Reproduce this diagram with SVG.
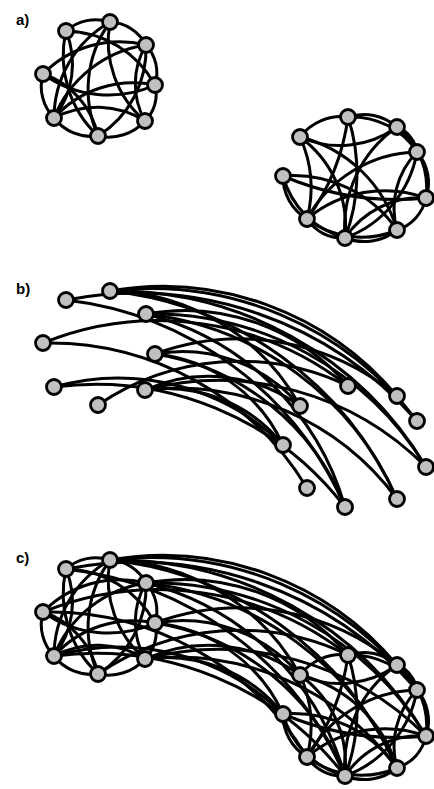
<svg xmlns="http://www.w3.org/2000/svg" width="434" height="789" viewBox="0 0 434 789">
<style>
.e{fill:none;stroke:#000;stroke-width:3}
.n{fill:#c0c0c0;stroke:#000;stroke-width:2.8}
.lbl{font-family:"Liberation Sans",Arial,sans-serif;font-weight:bold;font-size:15px;fill:#000}
</style>
<rect width="434" height="789" fill="#fff"/>
<text class="lbl" x="16" y="25">a)</text>
<text class="lbl" x="16" y="294">b)</text>
<text class="lbl" x="16" y="563">c)</text>
<g id="connectors">
<g id="a-edges">
<path class="e" d="M66 31A44.9 44.9 0 0 1 110 22"/>
<path class="e" d="M110 22A42.7 42.7 0 0 1 146 45"/>
<path class="e" d="M146 45A41 41 0 0 1 155 85"/>
<path class="e" d="M155 85A37.4 37.4 0 0 1 145 121"/>
<path class="e" d="M145 121A49.3 49.3 0 0 1 98 136"/>
<path class="e" d="M98 136A47.5 47.5 0 0 1 54 118"/>
<path class="e" d="M54 118A45.4 45.4 0 0 1 43 74"/>
<path class="e" d="M66 31A87.8 87.8 0 0 1 54 118"/>
<path class="e" d="M98 136A109.8 109.8 0 0 1 66 31"/>
<path class="e" d="M54 118A111.1 111.1 0 0 1 110 22"/>
<path class="e" d="M98 136A114.6 114.6 0 0 1 110 22"/>
<path class="e" d="M145 121A105 105 0 0 1 110 22"/>
<path class="e" d="M66 31A104.1 104.1 0 0 1 155 85"/>
<path class="e" d="M54 118A117.4 117.4 0 0 1 146 45"/>
<path class="e" d="M146 45A102.9 102.9 0 0 1 98 136"/>
<path class="e" d="M43 74A107 107 0 0 1 146 45"/>
<path class="e" d="M155 85A112.5 112.5 0 0 1 43 74"/>
<path class="e" d="M43 74A82.9 82.9 0 0 1 98 136"/>
<path class="e" d="M54 118A106.3 106.3 0 0 1 155 85"/>
<path class="e" d="M145 121A76 76 0 0 1 146 45"/>
<path class="e" d="M54 118A91 91 0 0 1 145 121"/>
<path class="e" d="M300 137A52 52 0 0 1 348 117"/>
<path class="e" d="M348 117A50 50 0 0 1 397 127"/>
<path class="e" d="M348 117A77.4 77.4 0 0 1 417 152"/>
<path class="e" d="M397 127A32 32 0 0 1 417 152"/>
<path class="e" d="M417 152A46.9 46.9 0 0 1 426 198"/>
<path class="e" d="M426 198A43.2 43.2 0 0 1 397 230"/>
<path class="e" d="M397 230A52.6 52.6 0 0 1 345 238"/>
<path class="e" d="M397 230A90.7 90.7 0 0 1 307 219"/>
<path class="e" d="M345 238A42.5 42.5 0 0 1 307 219"/>
<path class="e" d="M307 219A49.2 49.2 0 0 1 283 176"/>
<path class="e" d="M345 238A87.7 87.7 0 0 1 283 176"/>
<path class="e" d="M300 137A123 123 0 0 1 307 219"/>
<path class="e" d="M397 127A97.5 97.5 0 0 1 300 137"/>
<path class="e" d="M348 117A220 220 0 0 1 307 219"/>
<path class="e" d="M348 117A181 181 0 0 1 345 238"/>
<path class="e" d="M300 137A134.4 134.4 0 0 1 397 230"/>
<path class="e" d="M426 198A290 290 0 0 1 283 176"/>
<path class="e" d="M307 219A128.8 128.8 0 0 1 417 152"/>
<path class="e" d="M283 176A126.1 126.1 0 0 1 397 230"/>
<path class="e" d="M345 238A122.6 122.6 0 0 1 397 127"/>
<path class="e" d="M417 152A112.2 112.2 0 0 1 345 238"/>
<path class="e" d="M307 219A120.8 120.8 0 0 1 426 198"/>
<path class="e" d="M345 238A90.3 90.3 0 0 1 426 198"/>
<path class="e" d="M397 230A80.5 80.5 0 0 1 417 152"/>
<path class="e" d="M397 127A76.7 76.7 0 0 1 426 198"/>
<path class="e" d="M300 137A110.6 110.6 0 0 1 345 238"/>
</g>
<g id="b-edges" transform="translate(0,269)">
<path class="e" d="M66 31A371.3 371.3 0 0 1 417 152"/>
<path class="e" d="M66 31A347.4 347.4 0 0 1 345 238"/>
<path class="e" d="M110 22A305.6 305.6 0 0 1 397 127"/>
<path class="e" d="M110 22A333.4 333.4 0 0 1 417 152"/>
<path class="e" d="M110 22A361.7 361.7 0 0 1 426 198"/>
<path class="e" d="M110 22A354.4 354.4 0 0 1 397 230"/>
<path class="e" d="M110 22A222.1 222.1 0 0 1 300 137"/>
<path class="e" d="M146 45A214.4 214.4 0 0 1 348 117"/>
<path class="e" d="M146 45A319.1 319.1 0 0 1 426 198"/>
<path class="e" d="M146 45A311.8 311.8 0 0 1 397 230"/>
<path class="e" d="M146 45A277.2 277.2 0 0 1 345 238"/>
<path class="e" d="M43 74A308 308 0 0 1 348 117"/>
<path class="e" d="M43 74A301.2 301.2 0 0 1 307 219"/>
<path class="e" d="M155 85A245.6 245.6 0 0 1 397 127"/>
<path class="e" d="M155 85A154 154 0 0 1 300 137"/>
<path class="e" d="M155 85A157.1 157.1 0 0 1 283 176"/>
<path class="e" d="M155 85A243.9 243.9 0 0 1 345 238"/>
<path class="e" d="M54 118A236.2 236.2 0 0 1 283 176"/>
<path class="e" d="M54 118A314.8 314.8 0 0 1 345 238"/>
<path class="e" d="M145 121A155.8 155.8 0 0 1 300 137"/>
<path class="e" d="M145 121A148.6 148.6 0 0 1 283 176"/>
<path class="e" d="M145 121A291.4 291.4 0 0 1 426 198"/>
<path class="e" d="M145 121A274.6 274.6 0 0 1 397 230"/>
<path class="e" d="M98 136A250.7 250.7 0 0 1 348 117"/>
</g>
<g id="c-edges" transform="translate(0,538)">
<path class="e" d="M66 31A44.9 44.9 0 0 1 110 22"/>
<path class="e" d="M110 22A42.7 42.7 0 0 1 146 45"/>
<path class="e" d="M146 45A41 41 0 0 1 155 85"/>
<path class="e" d="M155 85A37.4 37.4 0 0 1 145 121"/>
<path class="e" d="M145 121A49.3 49.3 0 0 1 98 136"/>
<path class="e" d="M98 136A47.5 47.5 0 0 1 54 118"/>
<path class="e" d="M54 118A45.4 45.4 0 0 1 43 74"/>
<path class="e" d="M66 31A87.8 87.8 0 0 1 54 118"/>
<path class="e" d="M98 136A109.8 109.8 0 0 1 66 31"/>
<path class="e" d="M54 118A111.1 111.1 0 0 1 110 22"/>
<path class="e" d="M98 136A114.6 114.6 0 0 1 110 22"/>
<path class="e" d="M145 121A105 105 0 0 1 110 22"/>
<path class="e" d="M66 31A104.1 104.1 0 0 1 155 85"/>
<path class="e" d="M54 118A117.4 117.4 0 0 1 146 45"/>
<path class="e" d="M146 45A102.9 102.9 0 0 1 98 136"/>
<path class="e" d="M43 74A107 107 0 0 1 146 45"/>
<path class="e" d="M155 85A112.5 112.5 0 0 1 43 74"/>
<path class="e" d="M43 74A82.9 82.9 0 0 1 98 136"/>
<path class="e" d="M54 118A106.3 106.3 0 0 1 155 85"/>
<path class="e" d="M145 121A76 76 0 0 1 146 45"/>
<path class="e" d="M54 118A91 91 0 0 1 145 121"/>
<path class="e" d="M300 137A52 52 0 0 1 348 117"/>
<path class="e" d="M348 117A50 50 0 0 1 397 127"/>
<path class="e" d="M348 117A77.4 77.4 0 0 1 417 152"/>
<path class="e" d="M397 127A32 32 0 0 1 417 152"/>
<path class="e" d="M417 152A46.9 46.9 0 0 1 426 198"/>
<path class="e" d="M426 198A43.2 43.2 0 0 1 397 230"/>
<path class="e" d="M397 230A52.6 52.6 0 0 1 345 238"/>
<path class="e" d="M397 230A90.7 90.7 0 0 1 307 219"/>
<path class="e" d="M345 238A42.5 42.5 0 0 1 307 219"/>
<path class="e" d="M307 219A49.2 49.2 0 0 1 283 176"/>
<path class="e" d="M345 238A87.7 87.7 0 0 1 283 176"/>
<path class="e" d="M300 137A123 123 0 0 1 307 219"/>
<path class="e" d="M397 127A97.5 97.5 0 0 1 300 137"/>
<path class="e" d="M348 117A220 220 0 0 1 307 219"/>
<path class="e" d="M348 117A181 181 0 0 1 345 238"/>
<path class="e" d="M300 137A134.4 134.4 0 0 1 397 230"/>
<path class="e" d="M426 198A290 290 0 0 1 283 176"/>
<path class="e" d="M307 219A128.8 128.8 0 0 1 417 152"/>
<path class="e" d="M283 176A126.1 126.1 0 0 1 397 230"/>
<path class="e" d="M345 238A122.6 122.6 0 0 1 397 127"/>
<path class="e" d="M417 152A112.2 112.2 0 0 1 345 238"/>
<path class="e" d="M307 219A120.8 120.8 0 0 1 426 198"/>
<path class="e" d="M345 238A90.3 90.3 0 0 1 426 198"/>
<path class="e" d="M397 230A80.5 80.5 0 0 1 417 152"/>
<path class="e" d="M397 127A76.7 76.7 0 0 1 426 198"/>
<path class="e" d="M300 137A110.6 110.6 0 0 1 345 238"/>
<path class="e" d="M66 31A371.3 371.3 0 0 1 417 152"/>
<path class="e" d="M66 31A347.4 347.4 0 0 1 345 238"/>
<path class="e" d="M110 22A305.6 305.6 0 0 1 397 127"/>
<path class="e" d="M110 22A333.4 333.4 0 0 1 417 152"/>
<path class="e" d="M110 22A361.7 361.7 0 0 1 426 198"/>
<path class="e" d="M110 22A354.4 354.4 0 0 1 397 230"/>
<path class="e" d="M110 22A222.1 222.1 0 0 1 300 137"/>
<path class="e" d="M146 45A214.4 214.4 0 0 1 348 117"/>
<path class="e" d="M146 45A319.1 319.1 0 0 1 426 198"/>
<path class="e" d="M146 45A311.8 311.8 0 0 1 397 230"/>
<path class="e" d="M146 45A277.2 277.2 0 0 1 345 238"/>
<path class="e" d="M43 74A308 308 0 0 1 348 117"/>
<path class="e" d="M43 74A301.2 301.2 0 0 1 307 219"/>
<path class="e" d="M155 85A245.6 245.6 0 0 1 397 127"/>
<path class="e" d="M155 85A154 154 0 0 1 300 137"/>
<path class="e" d="M155 85A157.1 157.1 0 0 1 283 176"/>
<path class="e" d="M155 85A243.9 243.9 0 0 1 345 238"/>
<path class="e" d="M54 118A236.2 236.2 0 0 1 283 176"/>
<path class="e" d="M54 118A314.8 314.8 0 0 1 345 238"/>
<path class="e" d="M145 121A155.8 155.8 0 0 1 300 137"/>
<path class="e" d="M145 121A148.6 148.6 0 0 1 283 176"/>
<path class="e" d="M145 121A291.4 291.4 0 0 1 426 198"/>
<path class="e" d="M145 121A274.6 274.6 0 0 1 397 230"/>
<path class="e" d="M98 136A250.7 250.7 0 0 1 348 117"/>
</g>
</g>
<g id="panel-a">
<g id="a-L1"><circle class="n" cx="66" cy="31" r="7.5"/></g>
<g id="a-L2"><circle class="n" cx="110" cy="22" r="7.5"/></g>
<g id="a-L3"><circle class="n" cx="146" cy="45" r="7.5"/></g>
<g id="a-L4"><circle class="n" cx="43" cy="74" r="7.5"/></g>
<g id="a-L5"><circle class="n" cx="155" cy="85" r="7.5"/></g>
<g id="a-L6"><circle class="n" cx="54" cy="118" r="7.5"/></g>
<g id="a-L7"><circle class="n" cx="145" cy="121" r="7.5"/></g>
<g id="a-L8"><circle class="n" cx="98" cy="136" r="7.5"/></g>
<g id="a-R1"><circle class="n" cx="348" cy="117" r="7.5"/></g>
<g id="a-R2"><circle class="n" cx="397" cy="127" r="7.5"/></g>
<g id="a-R3"><circle class="n" cx="300" cy="137" r="7.5"/></g>
<g id="a-R4"><circle class="n" cx="417" cy="152" r="7.5"/></g>
<g id="a-R5"><circle class="n" cx="283" cy="176" r="7.5"/></g>
<g id="a-R6"><circle class="n" cx="426" cy="198" r="7.5"/></g>
<g id="a-R7"><circle class="n" cx="307" cy="219" r="7.5"/></g>
<g id="a-R8"><circle class="n" cx="397" cy="230" r="7.5"/></g>
<g id="a-R9"><circle class="n" cx="345" cy="238" r="7.5"/></g>
</g>
<g id="panel-b" transform="translate(0,269)">
<g id="b-L1"><circle class="n" cx="66" cy="31" r="7.5"/></g>
<g id="b-L2"><circle class="n" cx="110" cy="22" r="7.5"/></g>
<g id="b-L3"><circle class="n" cx="146" cy="45" r="7.5"/></g>
<g id="b-L4"><circle class="n" cx="43" cy="74" r="7.5"/></g>
<g id="b-L5"><circle class="n" cx="155" cy="85" r="7.5"/></g>
<g id="b-L6"><circle class="n" cx="54" cy="118" r="7.5"/></g>
<g id="b-L7"><circle class="n" cx="145" cy="121" r="7.5"/></g>
<g id="b-L8"><circle class="n" cx="98" cy="136" r="7.5"/></g>
<g id="b-R1"><circle class="n" cx="348" cy="117" r="7.5"/></g>
<g id="b-R2"><circle class="n" cx="397" cy="127" r="7.5"/></g>
<g id="b-R3"><circle class="n" cx="300" cy="137" r="7.5"/></g>
<g id="b-R4"><circle class="n" cx="417" cy="152" r="7.5"/></g>
<g id="b-R5"><circle class="n" cx="283" cy="176" r="7.5"/></g>
<g id="b-R6"><circle class="n" cx="426" cy="198" r="7.5"/></g>
<g id="b-R7"><circle class="n" cx="307" cy="219" r="7.5"/></g>
<g id="b-R8"><circle class="n" cx="397" cy="230" r="7.5"/></g>
<g id="b-R9"><circle class="n" cx="345" cy="238" r="7.5"/></g>
</g>
<g id="panel-c" transform="translate(0,538)">
<g id="c-L1"><circle class="n" cx="66" cy="31" r="7.5"/></g>
<g id="c-L2"><circle class="n" cx="110" cy="22" r="7.5"/></g>
<g id="c-L3"><circle class="n" cx="146" cy="45" r="7.5"/></g>
<g id="c-L4"><circle class="n" cx="43" cy="74" r="7.5"/></g>
<g id="c-L5"><circle class="n" cx="155" cy="85" r="7.5"/></g>
<g id="c-L6"><circle class="n" cx="54" cy="118" r="7.5"/></g>
<g id="c-L7"><circle class="n" cx="145" cy="121" r="7.5"/></g>
<g id="c-L8"><circle class="n" cx="98" cy="136" r="7.5"/></g>
<g id="c-R1"><circle class="n" cx="348" cy="117" r="7.5"/></g>
<g id="c-R2"><circle class="n" cx="397" cy="127" r="7.5"/></g>
<g id="c-R3"><circle class="n" cx="300" cy="137" r="7.5"/></g>
<g id="c-R4"><circle class="n" cx="417" cy="152" r="7.5"/></g>
<g id="c-R5"><circle class="n" cx="283" cy="176" r="7.5"/></g>
<g id="c-R6"><circle class="n" cx="426" cy="198" r="7.5"/></g>
<g id="c-R7"><circle class="n" cx="307" cy="219" r="7.5"/></g>
<g id="c-R8"><circle class="n" cx="397" cy="230" r="7.5"/></g>
<g id="c-R9"><circle class="n" cx="345" cy="238" r="7.5"/></g>
</g>
</svg>
